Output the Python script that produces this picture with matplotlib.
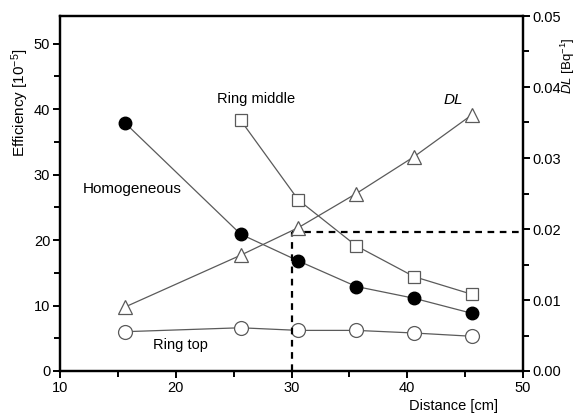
import matplotlib.pyplot as plt
from matplotlib.ticker import MultipleLocator

plt.rcParams['font.family'] = ['Liberation Sans', 'DejaVu Sans']
plt.rcParams['mathtext.fontset'] = 'custom'
plt.rcParams['mathtext.rm'] = 'Liberation Sans'
plt.rcParams['mathtext.it'] = 'Liberation Sans:italic'

# distances [cm]
distance = [15.6, 25.6, 30.6, 35.6, 40.6, 45.6]
distance_mid = [25.6, 30.6, 35.6, 40.6, 45.6]

# efficiency [1e-5]
homogeneous = [37.9, 20.9, 16.8, 12.9, 11.1, 8.8]
ring_middle = [38.3, 26.1, 19.1, 14.4, 11.7]
ring_top = [6.0, 6.6, 6.2, 6.2, 5.8, 5.3]

# detection limit [Bq^-1]
dl = [0.0090, 0.0163, 0.0202, 0.0250, 0.0302, 0.0361]

dl_limit = 0.0196
dist_limit = 30

line_col = '#5a5a5a'

fig = plt.figure(figsize=(5.77, 4.15), dpi=100)
ax = fig.add_axes([60 / 577, 1 - 371 / 415, (523 - 60) / 577, (371 - 16) / 415])
ax2 = ax.twinx()

ax.plot(distance, homogeneous, '-', color=line_col, lw=0.9, marker='o', ms=9,
        mfc='black', mec='black', zorder=3)
ax.plot(distance_mid, ring_middle, '-', color=line_col, lw=0.9, marker='s', ms=9,
        mfc='white', mec=line_col, mew=0.9, zorder=3)
ax.plot(distance, ring_top, '-', color=line_col, lw=0.9, marker='o', ms=10,
        mfc='white', mec=line_col, mew=0.9, zorder=3)
ax2.plot(distance, dl, '-', color=line_col, lw=0.9, marker='^', ms=10,
         mfc='white', mec=line_col, mew=0.9, zorder=3)

# limit lines
ax2.plot([dist_limit, dist_limit], [0, dl_limit], '--', color='black', lw=1.6, dashes=(3, 2.5))
ax2.plot([dist_limit, 50], [dl_limit, dl_limit], '--', color='black', lw=1.6, dashes=(3, 2.5))

ax.text(12, 27.8, "Homogeneous", fontsize=11, va='center', ha='left')
ax.text(26.9, 41.5, "Ring middle", fontsize=10.5, va='center', ha='center')
ax.text(44.0, 41.4, "DL", fontsize=11, va='center', ha='center', style='italic')
ax.text(20.4, 4.0, "Ring top", fontsize=10.5, va='center', ha='center')

ax.set_xlim(10, 50)
ax.set_ylim(0, 54.2)
ax2.set_ylim(0, 0.05)

ax.xaxis.set_major_locator(MultipleLocator(10))
ax.xaxis.set_minor_locator(MultipleLocator(5))
ax.yaxis.set_major_locator(MultipleLocator(10))
ax.yaxis.set_minor_locator(MultipleLocator(5))
ax2.yaxis.set_major_locator(MultipleLocator(0.01))
ax2.yaxis.set_minor_locator(MultipleLocator(0.005))
ax2.yaxis.set_major_formatter(plt.FormatStrFormatter('%.2f'))

for a in (ax, ax2):
    for s in a.spines.values():
        s.set_linewidth(1.6)
    a.tick_params(which='both', direction='out', width=1.4, labelsize=10.5, pad=2)
    a.tick_params(which='major', length=5)
    a.tick_params(which='minor', length=4)
ax2.tick_params(pad=1.5)

ax.set_xlabel("Distance [cm]", fontsize=10.5, va='center')
ax.xaxis.set_label_coords(0.85, -0.098)
ax.set_ylabel("Efficiency [10$^{-5}$]", fontsize=11, va='center')
ax.yaxis.set_label_coords(-0.087, 0.755)
ax2.set_ylabel("$DL$ [Bq$^{-1}$]", fontsize=9.5, va='center')
ax2.yaxis.set_label_coords(1.096, 0.86)

fig.savefig("out.png", dpi=100)
